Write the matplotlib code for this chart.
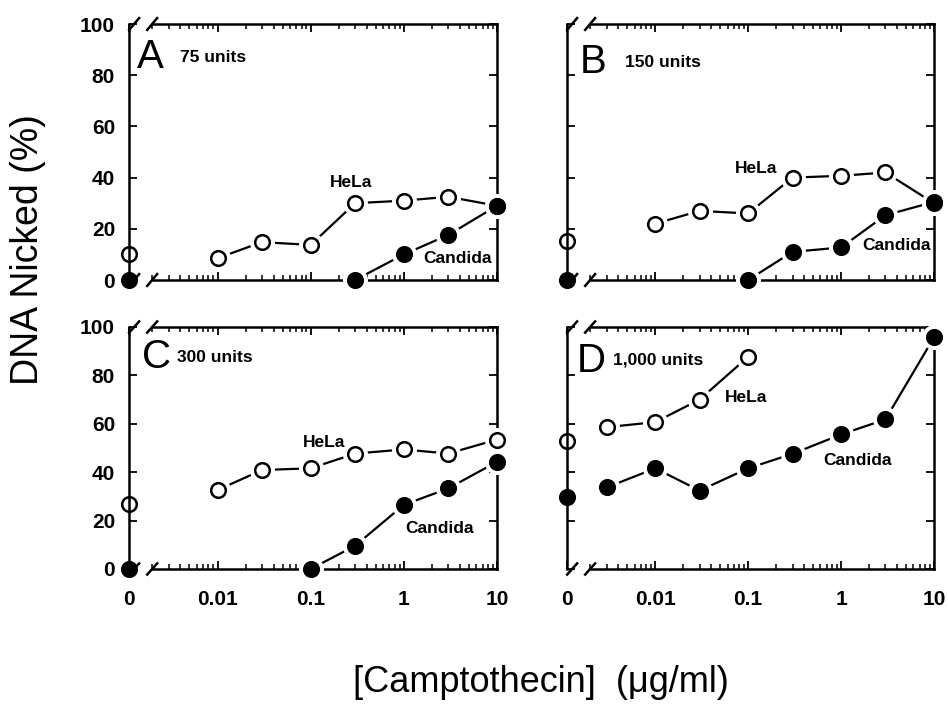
import matplotlib.pyplot as plt
from matplotlib.ticker import FixedLocator, NullFormatter

plt.rcParams['font.family'] = ['Liberation Sans', 'DejaVu Sans']

# data
panels = ["A", "B", "C", "D"]
units = ["75 units", "150 units", "300 units", "1,000 units"]

hela_x = [
    [0.01, 0.03, 0.1, 0.3, 1, 3, 10],
    [0.01, 0.03, 0.1, 0.3, 1, 3, 10],
    [0.01, 0.03, 0.1, 0.3, 1, 3, 10],
    [0.003, 0.01, 0.03, 0.1],
]
hela_y = [
    [8.5, 14.8, 13.7, 30, 31, 32.5, 29],
    [22, 27, 26, 40, 40.7, 42, 30],
    [32.6, 40.9, 41.6, 47.7, 49.4, 47.7, 53.5],
    [58.6, 60.7, 70, 87.7],
]
hela_zero = [10, 15.4, 26.7, 52.8]

cand_x = [
    [0.3, 1, 3, 10],
    [0.1, 0.3, 1, 3, 10],
    [0.1, 0.3, 1, 3, 10],
    [0.003, 0.01, 0.03, 0.1, 0.3, 1, 3, 10],
]
cand_y = [
    [0, 10, 17.6, 29],
    [0, 11, 12.7, 25.3, 30.5],
    [0, 9.6, 26.5, 33.3, 44.3],
    [33.7, 41.6, 32.4, 41.6, 47.6, 55.6, 61.8, 95.7],
]
cand_zero = [0, 0, 0, 29.9]

xticks = [0.01, 0.1, 1, 10]
xticklabels = ["0.01", "0.1", "1", "10"]
yticks = [0, 20, 40, 60, 80, 100]

# layout (pixels of a 948x705 figure)
W, H = 948, 705
boxes = [(129, 24, 368, 256), (567, 24, 367, 256),
         (129, 327, 368, 242), (567, 327, 367, 242)]
ZERO_X = 10 ** -2.95
AXIS_START = 10 ** -2.7

# label positions in axes fraction: letter, units, HeLa, Candida
label_pos = [
    [(0.022, 0.828), (0.139, 0.852), (0.546, 0.363), (0.799, 0.066)],
    [(0.035, 0.809), (0.158, 0.832), (0.458, 0.418), (0.804, 0.117)],
    [(0.035, 0.830), (0.130, 0.855), (0.473, 0.504), (0.750, 0.149)],
    [(0.027, 0.814), (0.125, 0.843), (0.430, 0.690), (0.698, 0.430)],
]

fig = plt.figure(figsize=(W / 100, H / 100), dpi=100)

minor = [m * 10.0 ** k for k in range(-3, 1) for m in range(2, 10) if m * 10.0 ** k >= 0.002]

for i in range(4):
    l, t, w, h = boxes[i]
    ax = fig.add_axes([l / W, 1 - (t + h) / H, w / W, h / H])
    ax.set_xscale('log')
    ax.set_xlim(ZERO_X, 10)
    ax.set_ylim(0, 100)

    for sp in ax.spines.values():
        sp.set_linewidth(1.8)
    ax.spines['top'].set_visible(False)
    ax.spines['bottom'].set_visible(False)
    for yy in (0, 1):
        ax.plot([AXIS_START, 10], [yy, yy], transform=ax.get_xaxis_transform(),
                color='k', lw=1.8, clip_on=False, solid_capstyle='projecting')
        for xc in (0.014, 0.063):
            ax.plot([xc - 0.0135, xc + 0.0135], [yy - 0.023, yy + 0.023],
                    transform=ax.transAxes, color='k', lw=1.8, clip_on=False)

    ax.xaxis.set_major_locator(FixedLocator([ZERO_X] + xticks))
    ax.xaxis.set_minor_locator(FixedLocator(minor))
    ax.xaxis.set_minor_formatter(NullFormatter())
    ax.set_yticks(yticks)
    ax.tick_params(axis='x', which='major', direction='in', top=True, length=6, width=1.3, pad=15)
    ax.tick_params(axis='x', which='minor', direction='in', top=True, length=3.5, width=1.1)
    ax.tick_params(axis='y', direction='in', right=True, length=6, width=1.3, pad=10)
    if i >= 2:
        ax.set_xticklabels(["0"] + xticklabels, fontsize=15, fontweight='bold')
    else:
        ax.set_xticklabels([])
    if i % 2 == 0:
        ax.set_yticklabels([str(v) for v in yticks], fontsize=15, fontweight='bold')
    else:
        ax.set_yticklabels([])

    # lines with white halo around markers
    for xs, ys, fc in ((hela_x[i], hela_y[i], 'white'), (cand_x[i], cand_y[i], 'black')):
        ax.plot(xs, ys, color='k', lw=1.6, clip_on=False, zorder=3)
        ax.plot(xs, ys, ls='none', marker='o', ms=17, mfc='white', mec='white',
                clip_on=False, zorder=4)
        ax.plot(xs, ys, ls='none', marker='o', ms=10.5, mfc=fc, mec='black', mew=1.8,
                clip_on=False, zorder=5)
    ax.plot([ZERO_X], [hela_zero[i]], ls='none', marker='o', ms=10.5, mfc='none',
            mec='black', mew=1.8, clip_on=False, zorder=2)
    ax.plot([ZERO_X], [cand_zero[i]], ls='none', marker='o', ms=10.5, mfc='black',
            mec='black', mew=1.8, clip_on=False, zorder=2)

    p = label_pos[i]
    ax.text(*p[0], panels[i], transform=ax.transAxes, fontsize=29, va='baseline')
    ax.text(*p[1], units[i], transform=ax.transAxes, fontsize=12.5, va='baseline',
            fontweight='bold')
    ax.text(*p[2], "HeLa", transform=ax.transAxes, fontsize=12.5, va='baseline',
            fontweight='bold')
    ax.text(*p[3], "Candida", transform=ax.transAxes, fontsize=12.5, va='baseline',
            fontweight='bold')

fig.text(28 / W, 1 - 250 / H, "DNA Nicked (%)", rotation=90, fontsize=27,
         ha='center', va='center')
fig.text(541 / W, 1 - 683 / H, "[Camptothecin]  (\u03bcg/ml)", fontsize=26,
         ha='center', va='center')

fig.savefig("out.png", dpi=100)
